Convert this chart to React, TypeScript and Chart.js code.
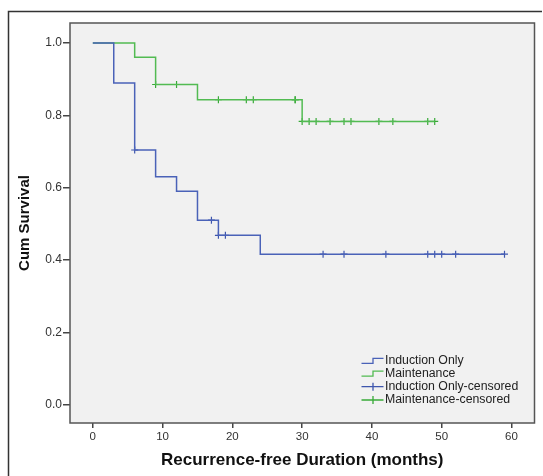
import React, { useEffect, useRef } from "react";
import { Chart, registerables } from "chart.js";

Chart.register(...registerables);

// Kaplan-Meier step data (time in months, cumulative survival)
const inductionTimes = [0, 3, 6, 9, 12, 15, 18, 24, 59];
const inductionSurv = [1.0, 0.889, 0.704, 0.63, 0.59, 0.51, 0.468, 0.416, 0.416];
const inductionCensorTimes = [6, 17, 18, 19, 33, 36, 42, 48, 49, 50, 52, 59];

const maintenanceTimes = [0, 6, 9, 15, 30, 49];
const maintenanceSurv = [1.0, 0.96, 0.885, 0.843, 0.783, 0.783];
const maintenanceCensorTimes = [9, 12, 18, 22, 23, 29, 29, 30, 31, 32, 34, 36, 37, 41, 43, 48, 49];

const xTicks = [0, 10, 20, 30, 40, 50, 60];
const yTicks = [0, 0.2, 0.4, 0.6, 0.8, 1.0];

const legendLabels = [
  "Induction Only",
  "Maintenance",
  "Induction Only-censored",
  "Maintenance-censored",
];

const BLUE = "#4a62b8";
const GREEN = "#52bb52";
const BLUE_C = "#3e56ad";
const GREEN_C = "#38aa38";
const FONT = "'Liberation Sans', Arial, sans-serif";

function survivalAt(times: number[], surv: number[], t: number) {
  let s = surv[0];
  for (let i = 0; i < times.length; i++) {
    if (times[i] <= t) s = surv[i];
  }
  return s;
}

const framePlugin = {
  id: "frame",
  beforeDraw(chart: any) {
    const { ctx, chartArea: a } = chart;
    ctx.save();
    ctx.fillStyle = "#ffffff";
    ctx.fillRect(0, 0, chart.width, chart.height);
    ctx.strokeStyle = "#333333";
    ctx.lineWidth = 1.5;
    ctx.beginPath();
    ctx.moveTo(8.5, chart.height + 2);
    ctx.lineTo(8.5, 11.5);
    ctx.lineTo(542, 11.5);
    ctx.stroke();
    ctx.fillStyle = "#f1f1f1";
    ctx.fillRect(a.left, a.top, a.right - a.left, a.bottom - a.top);
    ctx.restore();
  },
  afterDraw(chart: any) {
    const { ctx, chartArea: a } = chart;
    ctx.save();
    ctx.strokeStyle = "#555555";
    ctx.lineWidth = 1.5;
    ctx.strokeRect(a.left, a.top, a.right - a.left, a.bottom - a.top);

    // legend
    const colors = [BLUE, GREEN, BLUE_C, GREEN_C];
    const x0 = 361.5;
    const xm = 373;
    const x1 = 383.5;
    const rows = [360.7, 373.6, 386.7, 400.0];
    ctx.font = "12.3px " + FONT;
    ctx.textBaseline = "middle";
    ctx.textAlign = "left";
    legendLabels.forEach((lab, i) => {
      const y = rows[i];
      ctx.strokeStyle = colors[i];
      ctx.lineWidth = 1.3;
      ctx.beginPath();
      if (i < 2) {
        ctx.moveTo(x0, y + 2.6);
        ctx.lineTo(xm, y + 2.6);
        ctx.lineTo(xm, y - 2.4);
        ctx.lineTo(x1, y - 2.4);
      } else {
        ctx.moveTo(x0, y);
        ctx.lineTo(x1, y);
        ctx.moveTo(xm, y - 4);
        ctx.lineTo(xm, y + 4);
      }
      ctx.stroke();
      ctx.fillStyle = "#222222";
      ctx.fillText(lab, 385, y);
    });
    ctx.restore();
  },
};

export default function App() {
  const ref = useRef<HTMLCanvasElement | null>(null);

  useEffect(() => {
    if (!ref.current) return;
    const chart = new Chart(ref.current, {
      type: "line",
      data: {
        datasets: [
          {
            label: legendLabels[0],
            data: inductionTimes.map((t, i) => ({ x: t, y: inductionSurv[i] })),
            stepped: "before",
            borderColor: BLUE,
            borderWidth: 1.5,
            pointRadius: 0,
            fill: false,
          },
          {
            label: legendLabels[1],
            data: maintenanceTimes.map((t, i) => ({ x: t, y: maintenanceSurv[i] })),
            stepped: "before",
            borderColor: GREEN,
            borderWidth: 1.5,
            pointRadius: 0,
            fill: false,
          },
          {
            label: legendLabels[2],
            data: inductionCensorTimes.map((t) => ({
              x: t,
              y: survivalAt(inductionTimes, inductionSurv, t),
            })),
            showLine: false,
            pointStyle: "cross",
            pointRadius: 3.5,
            pointBorderWidth: 1.2,
            borderColor: BLUE_C,
            pointBorderColor: BLUE_C,
          },
          {
            label: legendLabels[3],
            data: maintenanceCensorTimes.map((t) => ({
              x: t,
              y: survivalAt(maintenanceTimes, maintenanceSurv, t),
            })),
            showLine: false,
            pointStyle: "cross",
            pointRadius: 3.5,
            pointBorderWidth: 1.2,
            borderColor: GREEN_C,
            pointBorderColor: GREEN_C,
          },
        ],
      },
      options: {
        animation: false,
        responsive: false,
        maintainAspectRatio: false,
        events: [],
        layout: { padding: { left: 0, top: 23, right: 8.5, bottom: 0 } },
        plugins: {
          legend: { display: false },
          tooltip: { enabled: false },
        },
        scales: {
          x: {
            type: "linear",
            min: -3.27,
            max: 63.3,
            afterBuildTicks: (scale: any) => {
              scale.ticks = xTicks.map((v) => ({ value: v }));
            },
            afterFit: (scale: any) => {
              scale.height = 53;
            },
            grid: {
              display: true,
              drawOnChartArea: false,
              drawTicks: true,
              tickLength: 5,
              color: "#444444",
              lineWidth: 1.5,
            },
            border: { display: false },
            ticks: {
              padding: 2,
              color: "#333333",
              font: { family: FONT, size: 11.5 },
              maxRotation: 0,
              autoSkip: false,
              callback: (v: any) => String(v),
            },
            title: {
              display: true,
              text: "Recurrence-free Duration (months)",
              color: "#111111",
              font: { family: FONT, size: 17, weight: "bold" },
              padding: { top: 0, bottom: 5 },
            },
          },
          y: {
            type: "linear",
            min: -0.0506,
            max: 1.055,
            afterBuildTicks: (scale: any) => {
              scale.ticks = yTicks.map((v) => ({ value: v }));
            },
            afterFit: (scale: any) => {
              scale.width = 70;
            },
            grid: {
              display: true,
              drawOnChartArea: false,
              drawTicks: true,
              tickLength: 7,
              color: "#444444",
              lineWidth: 1.5,
            },
            border: { display: false },
            ticks: {
              padding: 1,
              color: "#333333",
              font: { family: FONT, size: 12 },
              autoSkip: false,
              callback: (v: any) => Number(v).toFixed(1),
            },
            title: {
              display: true,
              text: "Cum Survival",
              color: "#111111",
              font: { family: FONT, size: 15, weight: "bold" },
              padding: { top: 16, bottom: 0 },
            },
          },
        },
      },
      plugins: [framePlugin],
    } as any);
    return () => chart.destroy();
  }, []);

  return (
    <div style={{ position: "fixed", left: 0, top: 0, width: 543, height: 476 }}>
      <canvas ref={ref} width={543} height={476} style={{ display: "block", width: 543, height: 476 }} />
    </div>
  );
}
